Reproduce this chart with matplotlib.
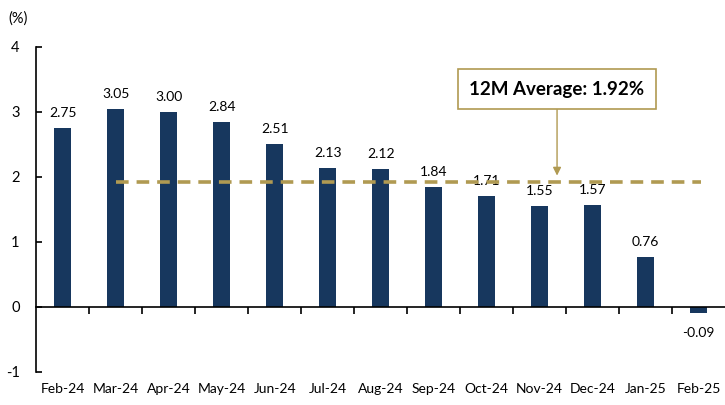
import matplotlib
matplotlib.use("Agg")
import matplotlib.pyplot as plt
from matplotlib.transforms import blended_transform_factory

plt.rcParams['font.family'] = ['Lato', 'DejaVu Sans']

categories = ["Feb-24", "Mar-24", "Apr-24", "May-24", "Jun-24", "Jul-24", "Aug-24",
              "Sep-24", "Oct-24", "Nov-24", "Dec-24", "Jan-25", "Feb-25"]
values = [2.75, 3.05, 3.00, 2.84, 2.51, 2.13, 2.12, 1.84, 1.71, 1.55, 1.57, 0.76, -0.09]
average = 1.92
avg_label = "12M Average: 1.92%"

bar_color = "#17375E"
gold = "#B09A52"

fig = plt.figure(figsize=(7.25, 4.05), dpi=100)
ax = fig.add_axes([0.05, 0.082, 0.95, 0.802])

x = list(range(len(categories)))
ax.bar(x, values, width=0.32, color=bar_color, zorder=2)

ax.set_xlim(-0.5, len(categories) - 0.5)
ax.set_ylim(-1, 4)
ax.set_yticks([-1, 0, 1, 2, 3, 4])
ax.set_yticklabels(["-1", "0", "1", "2", "3", "4"], fontsize=10.5)
ax.tick_params(axis='y', direction='in', length=4, width=1.2, pad=12)

ax.spines['top'].set_visible(False)
ax.spines['right'].set_visible(False)
ax.spines['left'].set_linewidth(1.2)
ax.spines['bottom'].set_position(('data', 0))
ax.spines['bottom'].set_linewidth(1.2)

ax.set_xticks([i + 0.5 for i in range(len(categories) - 1)])
ax.set_xticklabels([])
ax.tick_params(axis='x', direction='out', length=5, width=1.2)

trans = blended_transform_factory(ax.transData, ax.transAxes)
for i, c in enumerate(categories):
    ax.text(i, -0.035, c, transform=trans, ha='center', va='top', fontsize=10)

for i, v in enumerate(values):
    if v >= 0:
        ax.annotate(f"{v:.2f}", (i, v), xytext=(0, 6.5), textcoords='offset points',
                    ha='center', va='bottom', fontsize=10)
    else:
        ax.annotate(f"{v:.2f}", (i, v), xytext=(0, -10), textcoords='offset points',
                    ha='center', va='top', fontsize=10)

ax.plot([1, 12.05], [average, average], color=gold, lw=2.6,
        dashes=(3.5, 2.2), zorder=3, solid_capstyle='butt')

ax.annotate(avg_label, xy=(9.33, average + 0.1), xytext=(9.33, 3.35),
            ha='center', va='center', fontsize=13.5, fontweight='bold',
            bbox=dict(boxstyle='square,pad=0.6', fc='white', ec=gold, lw=1.2),
            arrowprops=dict(arrowstyle='-|>', color=gold, lw=1.0, mutation_scale=12,
                            shrinkA=0, shrinkB=0))

fig.text(0.012, 0.955, "(%)", fontsize=10.5, ha='left', va='center')

fig.savefig("out.png", dpi=100)
